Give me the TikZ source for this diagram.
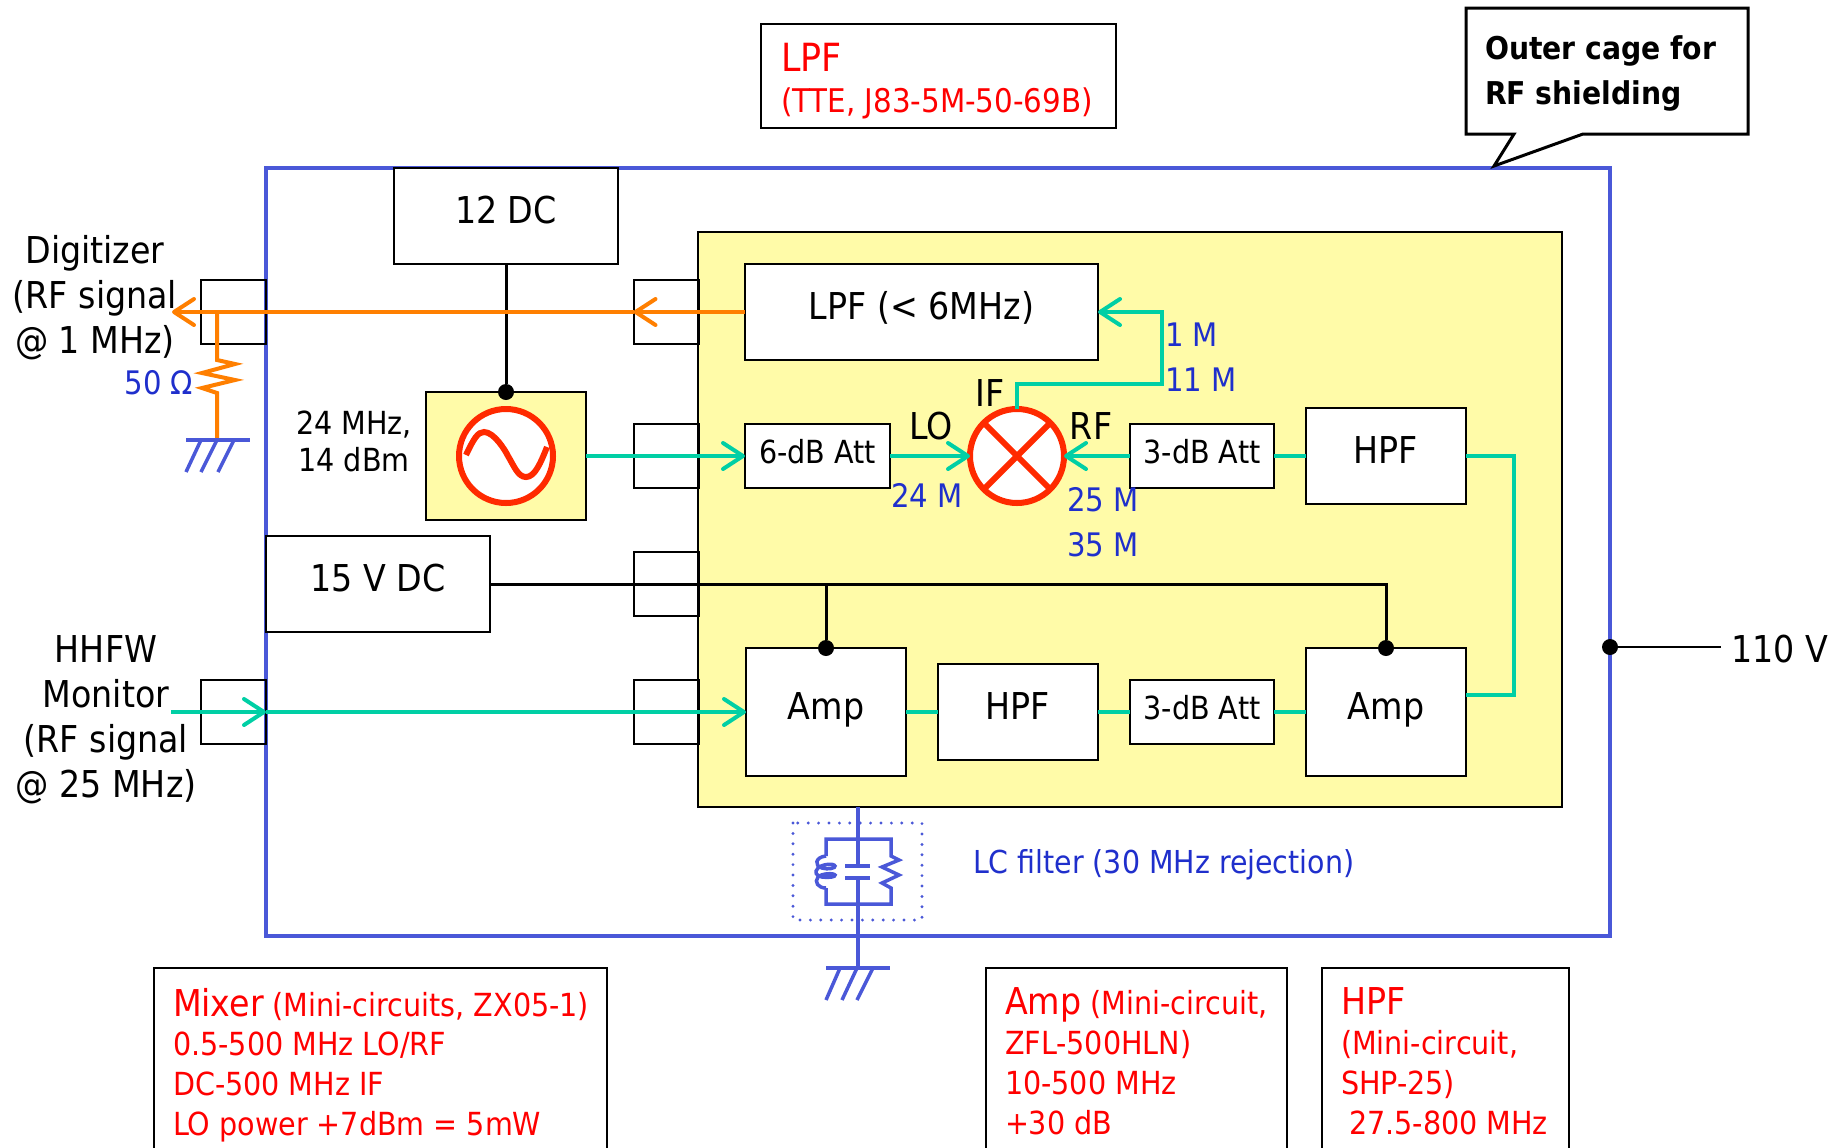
\documentclass[tikz,border=0pt]{standalone}
\usepackage{fontspec}
\setmainfont{DejaVu Sans Condensed}
\usetikzlibrary{arrows.meta}
\definecolor{cageblue}{HTML}{4A58D8}
\definecolor{textblue}{HTML}{1F2FCC}
\definecolor{paleyellow}{HTML}{FFFBA8}
\definecolor{teal1}{HTML}{00CFA5}
\definecolor{orange1}{HTML}{FF7F00}
\definecolor{red1}{HTML}{FF2A00}
\tikzset{
  x=0.5pt,y=-0.5pt,
  every node/.style={inner sep=0pt,outer sep=0pt},
  bigtext/.style={font=\fontsize{18.5}{22.5}\selectfont},
  smalltext/.style={font=\fontsize{15.9}{18.5}\selectfont},
  box/.style={draw=black,line width=1.25pt,fill=white,bigtext,text height=.76em,text depth=0pt},
  attbox/.style={box,smalltext,minimum width=72pt,minimum height=32pt},
  stub/.style={draw=black,line width=1pt,minimum width=32.5pt,minimum height=32pt},
  barb/.tip={Straight Barb[length=10pt,width=13pt,line cap=round,round]},
  tealline/.style={draw=teal1,line width=2pt},
  orangeline/.style={draw=orange1,line width=2pt},
  blackline/.style={draw=black,line width=1.5pt},
  blueline/.style={draw=cageblue,line width=1.75pt},
  rflabel/.style={font=\fontsize{16.2}{20}\selectfont,text=textblue},
  lbl/.style={bigtext,text=black,align=center},
  note/.style={draw=black,line width=1pt,fill=white,anchor=north west},
  notetext/.style={font=\fontsize{15.9}{19.9}\selectfont,text=red,align=left,anchor=north west},
  jdot/.style={circle,fill=black,minimum size=8pt},
}
\newcommand{\notehead}[1]{{\fontsize{18.5}{19.9}\selectfont #1}}
\begin{document}
\begin{tikzpicture}
\useasboundingbox (0,0) rectangle (1845,1147);
\fill[white] (0,0) rectangle (1845,1147);
% outer cage
\node[draw=cageblue,line width=2pt,minimum width=672pt,minimum height=384pt] (cage) at (938,552) {};
% yellow inner box
\node[draw=black,line width=1.25pt,fill=paleyellow,minimum width=432pt,minimum height=287.5pt] (inner) at (1130,519.5) {};
% notes at the top
\node[draw=black,line width=1pt,fill=white,minimum width=177.5pt,minimum height=52pt] (lpfnote) at (938.5,76) {};
\node[notetext,font=\fontsize{19.4}{22}\selectfont,anchor=west] (lpfnotea) at (781,57) {LPF};
\node[notetext,font=\fontsize{16.3}{20}\selectfont,anchor=west] (lpfnoteb) at (781,103) {(TTE, J83-5M-50-69B)};
% callout
\draw[black,line width=1.5pt,fill=white,line join=miter] (1466,8) -- (1748,8) -- (1748,134) -- (1583,134) -- (1494,166) -- (1514,134) -- (1466,134) -- cycle;
\node[font=\fontsize{15.7}{22.5}\selectfont\bfseries,align=left,anchor=west] (calltext) at (1485,73) {Outer cage for\\RF shielding};
% connector stubs
\node[stub] (digport) at (233.5,312) {};
\node[stub] (hhport) at (233.5,712) {};
\node[stub] (stubA) at (666,312) {};
\node[stub] (stubB) at (666,456) {};
\node[stub] (stubC) at (666,584) {};
\node[stub] (stubD) at (666,712) {};
% blocks
\node[box,minimum width=112pt,minimum height=48pt] (dc12) at (506,216) {12 DC};
\node[box,minimum width=112pt,minimum height=48pt] (dc15) at (378,584) {15 V DC};
\node[draw=black,line width=1.25pt,fill=paleyellow,minimum width=80pt,minimum height=64pt] (oscbox) at (506,456) {};
\node[box,minimum width=176.5pt,minimum height=48pt] (lpf) at (921.5,312) {LPF (< 6MHz)};
\node[attbox,minimum width=72.5pt] (att6) at (817.5,456) {6-dB Att};
\node[attbox] (att3a) at (1202,456) {3-dB Att};
\node[box,minimum width=80pt,minimum height=48pt] (hpfa) at (1386,456) {HPF};
\node[box,minimum width=80pt,minimum height=64pt] (ampl) at (826,712) {Amp};
\node[box,minimum width=80pt,minimum height=48pt] (hpfb) at (1018,712) {HPF};
\node[attbox] (att3b) at (1202,712) {3-dB Att};
\node[box,minimum width=80pt,minimum height=64pt] (ampr) at (1386,712) {Amp};
% oscillator
\node[circle,draw=red1,line width=3pt,fill=white,minimum size=47pt] (osc) at (506,456) {};
\draw[red1,line width=3pt] (466,455) .. controls (474,438) and (478,432) .. (484,432) .. controls (494,432) and (505,450) .. (508,456) .. controls (514,466) and (518,477) .. (526,477) .. controls (535,477) and (541,462) .. (547,447);
% mixer
\node[circle,draw=red1,line width=3pt,fill=white,minimum size=47pt] (mix) at (1017,456) {};
\draw[red1,line width=3pt] (mix.north west) -- (mix.south east);
\draw[red1,line width=3pt] (mix.north east) -- (mix.south west);
% dots
\node[jdot] (dotosc) at (oscbox.north) {};
\node[jdot] (dotl) at (ampl.north) {};
\node[jdot] (dotr) at (ampr.north) {};
\node[jdot] (dotcage) at (1610,647) {};
% coordinates
\coordinate (digtip) at (172,312);
\coordinate (rjunc) at (217,312);
\coordinate (gnda) at (217,440);
\coordinate (hhstart) at (171,712);
\coordinate (ifa) at (1017,384);
\coordinate (ifb) at (1162,384);
\coordinate (ifc) at (1162,312);
\coordinate (rfa) at (1514,456);
\coordinate (rfb) at (1514,695);
\coordinate (ampro) at (1466,695);
\coordinate (blk) at (1386,584);
\coordinate (blkm) at (826,584);
\coordinate (v110) at (1721,647);
\coordinate (gndb) at (858,968);
% black wiring
\draw[blackline] (dc12.south) -- (dotosc);
\draw[blackline] (dc15.east |- blk) -- (blk) -- (dotr);
\draw[blackline] (blkm) -- (dotl);
\draw[black,line width=1.25pt] (dotcage) -- (v110);
% orange wiring
\draw[orangeline,-{barb}] (lpf.west) -- (stubA.west);
\draw[orangeline,-{barb}] (stubA.west) -- (digtip);
\draw[orange1,line width=2pt] (rjunc) -- (217,360) -- (235,364) -- (202,373) -- (235,380) -- (202,388) -- (217,393) -- (gnda);
% teal wiring
\draw[tealline,-{barb}] (osc.east -| oscbox.east) -- (att6.west);
\draw[tealline,-{barb}] (att6.east) -- (mix.west);
\draw[tealline,-{barb}] (att3a.west) -- (mix.east);
\draw[tealline] (hpfa.west) -- (att3a.east);
\draw[tealline,-{barb}] (mix.north) -- (ifa) -- (ifb) -- (ifc) -- (lpf.east);
\draw[tealline] (hpfa.east) -- (rfa) -- (rfb) -- (ampro);
\draw[tealline,-{barb}] (hhstart) -- (hhport.east);
\draw[tealline,-{barb}] (hhport.east) -- (ampl.west);
\draw[tealline] (ampl.east) -- (hpfb.west);
\draw[tealline] (hpfb.east) -- (att3b.west);
\draw[tealline] (att3b.east) -- (ampr.west);
% ground left
\draw[blueline] (186,440) -- (250,440);
\draw[blueline] (201,440) -- (186,472) (217,440) -- (201,472) (234,440) -- (218,472);
% LC filter
\draw[draw=cageblue,line width=1.6pt,dash pattern=on 0pt off 5.2pt,line cap=round] (793,823) rectangle (922,920);
\draw[blueline] (inner.south -| gndb) -- (858,866);
\draw[blueline] (858,878) -- (gndb);
\draw[blueline] (845,866) -- (870,866) (845,878) -- (870,878);
\draw[blueline] (826,856) -- (826,839) -- (891,839) -- (891,856) -- (899,860) -- (882,867) -- (899,875) -- (882,883) -- (891,888) -- (891,904) -- (826,904) -- (826,888);
\draw[blueline] (826,856) .. controls (815,857) and (814,866) .. (822,868) .. controls (828,870) and (836,868) .. (835,866) .. controls (834,863) and (822,864) .. (818,868) .. controls (814,872) and (816,876) .. (822,877) .. controls (828,878) and (836,877) .. (835,875) .. controls (834,873) and (822,873) .. (818,877) .. controls (814,882) and (818,888) .. (826,888);
% ground bottom
\draw[blueline] (826,968) -- (890,968);
\draw[blueline] (840,968) -- (826,1000) (857,968) -- (842,1000) (873,968) -- (857,1000);
% labels
\node[lbl] (digitizer) at (95,298) {Digitizer\\(RF signal\\@ 1 MHz)};
\node[lbl] (hhfw) at (106,720) {HHFW\\Monitor\\(RF signal\\@ 25 MHz)};
\node[lbl,smalltext] (oscfreq) at (354,441) {24 MHz,\\14 dBm};
\node[rflabel] (fifty) at (159,383) {50 Ω};
\node[lbl] (lolabel) at (931,426) {LO};
\node[lbl] (iflabel) at (990,393) {IF};
\node[lbl] (rflabel) at (1091,426) {RF};
\node[rflabel] (m24) at (927,495) {24 M};
\node[rflabel] (m25) at (1103,500) {25 M};
\node[rflabel] (m35) at (1103,545) {35 M};
\node[rflabel,anchor=west] (m1) at (1165,335) {1 M};
\node[rflabel,anchor=west] (m11) at (1165,380) {11 M};
\node[rflabel,anchor=west,font=\fontsize{15.8}{20}\selectfont] (lctext) at (973,865) {LC filter (30 MHz rejection)};
\node[lbl,anchor=west] (v110text) at (1731,649) {110 V};
% bottom notes
\node[note,minimum width=226.5pt,minimum height=100pt] (mixnote) at (154,968) {};
\node[note,minimum width=150.5pt,minimum height=100pt] (ampnote) at (986,968) {};
\node[note,minimum width=123.5pt,minimum height=100pt] (hpfnote) at (1322,968) {};
\node[notetext] (mixtext) at (173,988) {\notehead{Mixer} (Mini-circuits, ZX05-1)\\0.5-500 MHz LO/RF\\DC-500 MHz IF\\LO power +7dBm = 5mW};
\node[notetext] (amptext) at (1005,988) {\notehead{Amp} (Mini-circuit,\\ZFL-500HLN)\\10-500 MHz\\+30 dB};
\node[notetext] (hpftext) at (1341,988) {\notehead{HPF}\\(Mini-circuit,\\SHP-25)\\\hspace*{4pt}27.5-800 MHz};
\end{tikzpicture}
\end{document}
